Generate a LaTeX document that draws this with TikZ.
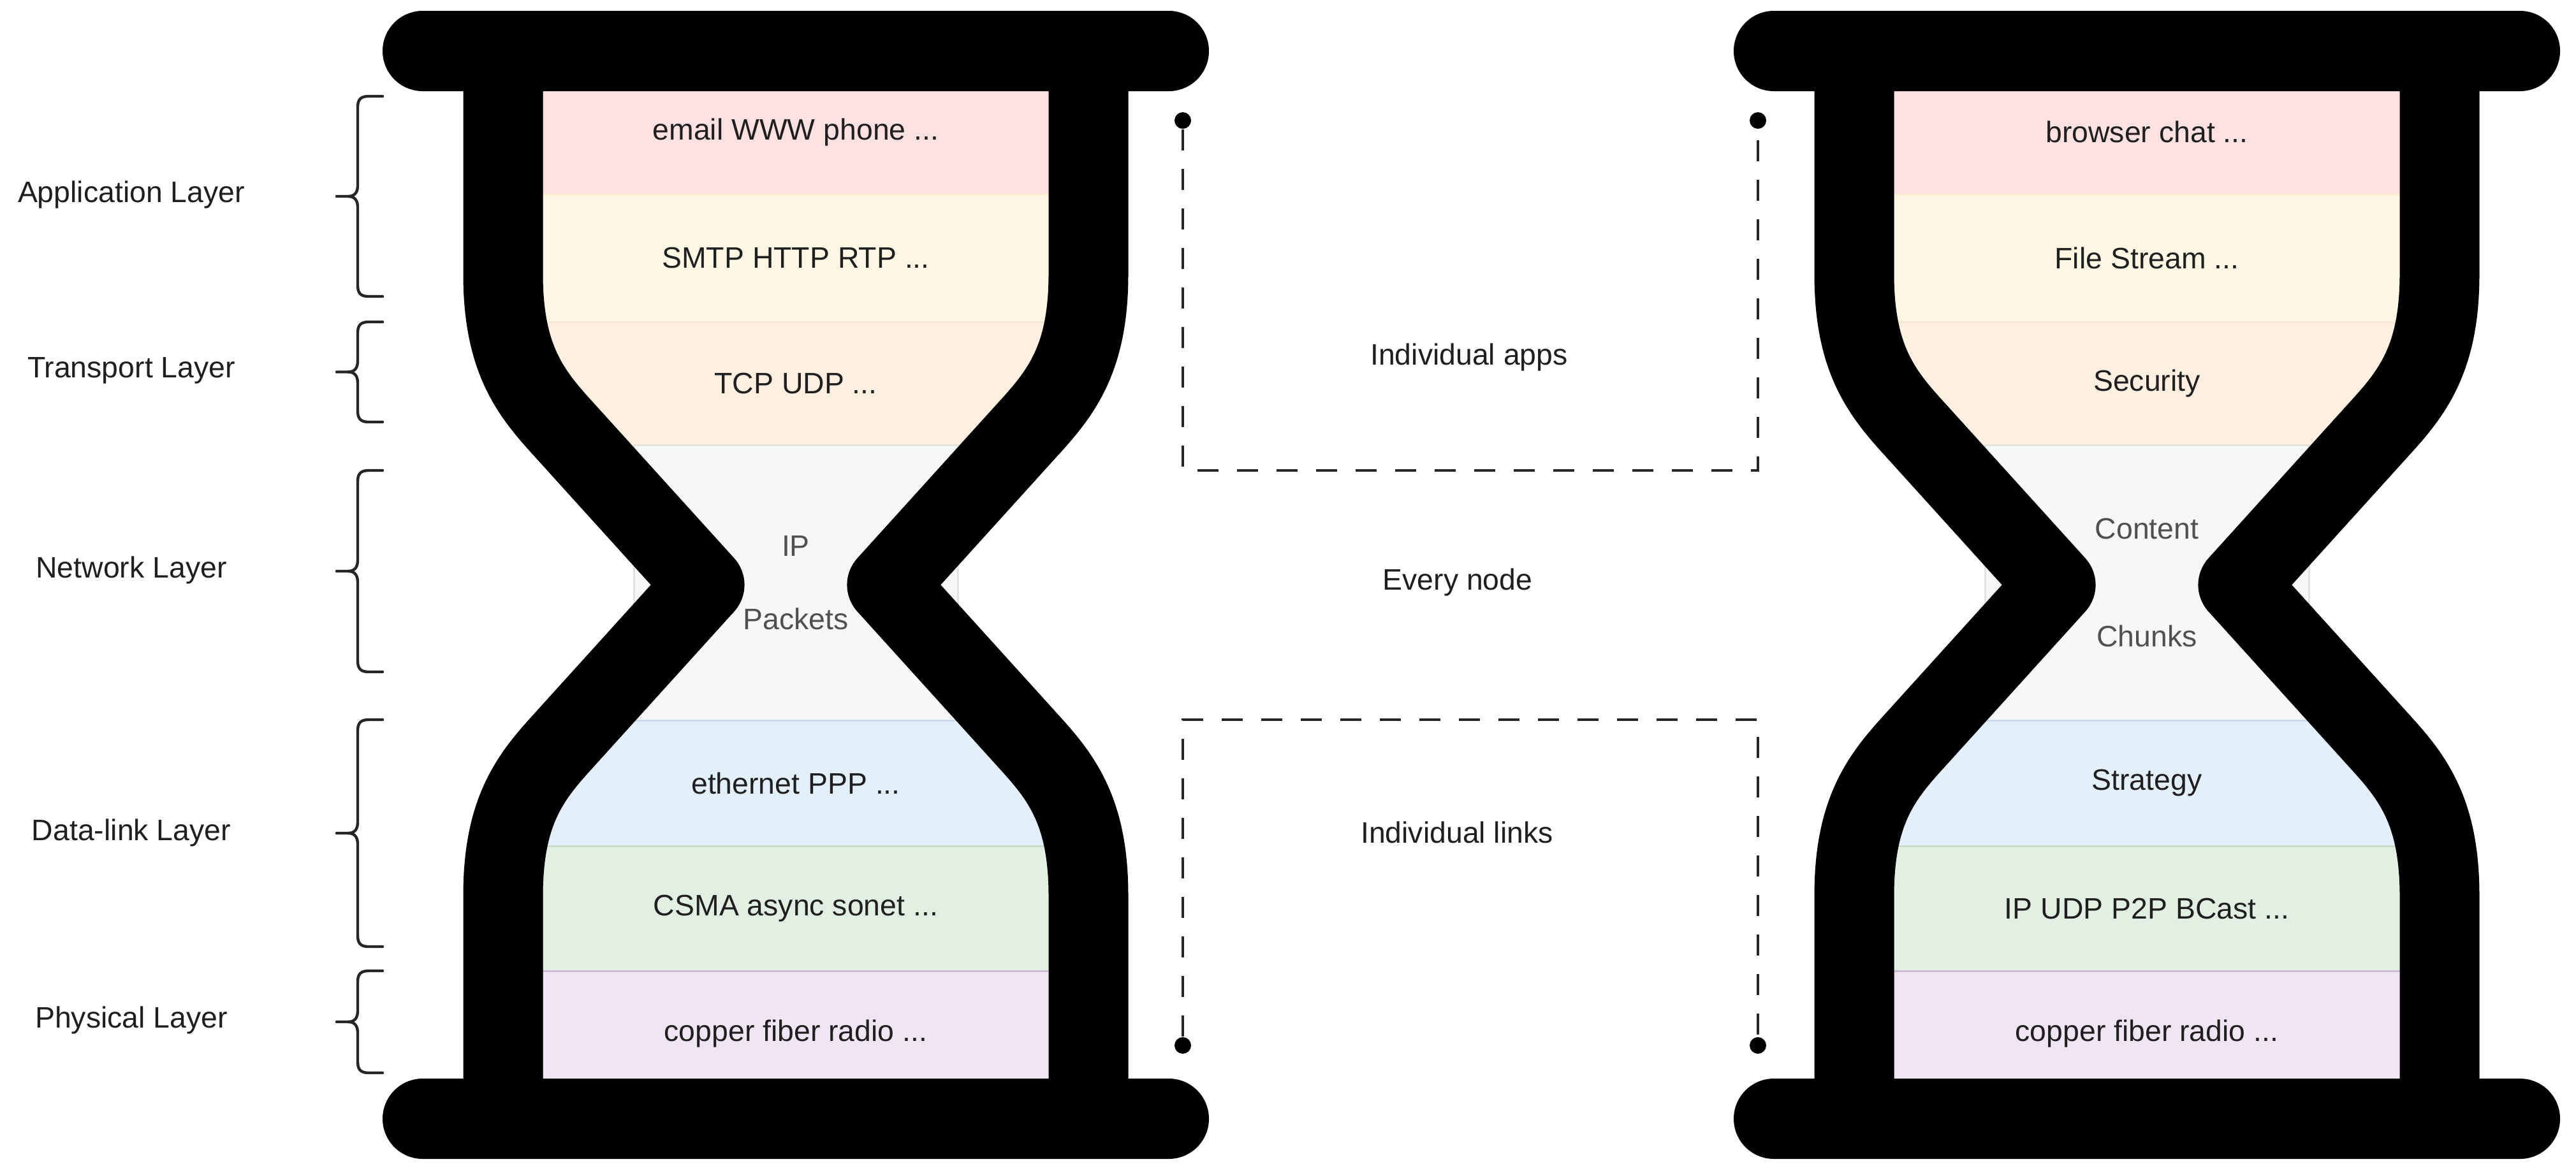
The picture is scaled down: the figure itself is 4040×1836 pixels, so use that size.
\documentclass[tikz,border=0pt]{standalone}
\usepackage{fontspec}
\setmainfont{Liberation Sans}
\usetikzlibrary{arrows.meta}
\definecolor{cpink}{HTML}{FFE1E1}
\definecolor{cyel}{HTML}{FFF7E3}
\definecolor{corg}{HTML}{FFF0E1}
\definecolor{cgray}{HTML}{F7F7F7}
\definecolor{cblue}{HTML}{E4EFFC}
\definecolor{cgreen}{HTML}{E2F0E3}
\definecolor{cpurp}{HTML}{F0E5F2}
\definecolor{dpink}{HTML}{F8D8D8}
\definecolor{dyel}{HTML}{FBF0D6}
\definecolor{dorg}{HTML}{F9E6D3}
\definecolor{dgray}{HTML}{E3E3E3}
\definecolor{dblue}{HTML}{CCDCF0}
\definecolor{dgreen}{HTML}{C6DFC6}
\definecolor{dpurp}{HTML}{CDBAD6}
\definecolor{ctext}{HTML}{1F1F1F}
\definecolor{cgtext}{HTML}{505050}
\definecolor{cline}{HTML}{262626}
\begin{document}
\begin{tikzpicture}[x=0.25pt, y=-0.25pt,
  txt/.style={font=\fontsize{11.6pt}{14pt}\selectfont, text=ctext, inner sep=0pt},
  lbox/.style={rectangle, inner sep=0pt, line width=0.75pt, minimum width=199pt,
     font=\fontsize{11.6pt}{14pt}\selectfont, text=ctext, align=center},
  hgstroke/.style={line width=31.25pt, line join=round, draw=black},
  bar/.style={rectangle, fill=black, draw=none, rounded corners=15.75pt,
     minimum width=324pt, minimum height=31.5pt, inner sep=0pt},
  bracestyle/.style={draw=cline, line width=1.1pt, line join=round, line cap=round},
  dashline/.style={draw=cline, line width=1pt, dash pattern=on 8.25pt off 7.25pt},
  dot/.style={circle, fill=black, draw=none, inner sep=0pt, minimum size=6.5pt}
]
\fill[white] (0,0) rectangle (4040,1836);
\useasboundingbox (0,0) rectangle (4040,1836);

% ---------- left hourglass boxes ----------
\node[lbox, fill=cpink, draw=dpink, minimum height=49pt] (lA) at (1248,207) {email WWW phone ...};
\node[lbox, fill=cyel, draw=dyel, minimum height=50pt] (lB) at (1248,405) {SMTP HTTP RTP ...};
\node[lbox, fill=corg, draw=dorg, minimum height=48.25pt] (lC) at (1248,601.5) {TCP UDP ...};
\node[lbox, fill=cgray, draw=dgray, minimum height=108pt, minimum width=127pt, text=cgtext,
  font=\fontsize{11.6pt}{28.75pt}\selectfont] (lD) at (1248,914) {IP\\Packets};
\node[lbox, fill=cblue, draw=dblue, minimum height=49.25pt] (lE) at (1248,1228.5) {ethernet PPP ...};
\node[lbox, fill=cgreen, draw=dgreen, minimum height=49pt] (lF) at (1248,1425) {CSMA async sonet ...};
\node[lbox, fill=cpurp, draw=dpurp, minimum height=49pt] (lG) at (1248,1621) {copper fiber radio ...};

% ---------- right hourglass boxes ----------
\node[lbox, fill=cpink, draw=dpink, minimum height=49pt] (rA) at (3367,207) {browser chat ...};
\node[lbox, fill=cyel, draw=dyel, minimum height=50pt] (rB) at (3367,405) {File Stream ...};
\node[lbox, fill=corg, draw=dorg, minimum height=48.25pt] (rC) at (3367,601.5) {Security};
\node[lbox, fill=cgray, draw=dgray, minimum height=108pt, minimum width=127pt, text=cgtext,
  font=\fontsize{11.6pt}{42.25pt}\selectfont] (rD) at (3367,914) {Content\\Chunks};
\node[lbox, fill=cblue, draw=dblue, minimum height=49.25pt] (rE) at (3367,1228.5) {Strategy};
\node[lbox, fill=cgreen, draw=dgreen, minimum height=49pt] (rF) at (3367,1425) {IP UDP P2P BCast ...};
\node[lbox, fill=cpurp, draw=dpurp, minimum height=49pt] (rG) at (3367,1621) {copper fiber radio ...};

% ---------- hourglass outlines ----------
\draw[hgstroke] (789,100) -- (789,430) .. controls (789,560) and (830,614) .. (881,670) -- (1105,917.5)
  -- (881,1165) .. controls (830,1221) and (789,1275) .. (789,1405) -- (789,1740);
\draw[hgstroke] (1707,100) -- (1707,430) .. controls (1707,560) and (1666,614) .. (1615,670) -- (1391,917.5)
  -- (1615,1165) .. controls (1666,1221) and (1707,1275) .. (1707,1405) -- (1707,1740);
\draw[hgstroke] (2908,100) -- (2908,430) .. controls (2908,560) and (2949,614) .. (3000,670) -- (3224,917.5)
  -- (3000,1165) .. controls (2949,1221) and (2908,1275) .. (2908,1405) -- (2908,1740);
\draw[hgstroke] (3826,100) -- (3826,430) .. controls (3826,560) and (3785,614) .. (3734,670) -- (3510,917.5)
  -- (3734,1165) .. controls (3785,1221) and (3826,1275) .. (3826,1405) -- (3826,1740);

% ---------- bars ----------
\node[bar] (ltop) at (1248,80) {};
\node[bar] (lbot) at (1248,1755) {};
\node[bar] (rtop) at (3367,80) {};
\node[bar] (rbot) at (3367,1755) {};

% ---------- braces and layer labels ----------
\foreach \ya/\yb in {151/465, 505/662, 738/1054, 1129/1485, 1523/1683} {
  \pgfmathsetmacro\ym{(\ya+\yb)/2}
  \draw[bracestyle] (600,\ya) -- (578,\ya) .. controls (566,\ya) and (561,\ya+5) .. (561,\ya+17)
    -- (561,\ym-17) .. controls (561,\ym-6) and (556,\ym) .. (546,\ym) -- (528,\ym);
  \draw[bracestyle] (546,\ym) .. controls (556,\ym) and (561,\ym+6) .. (561,\ym+17)
    -- (561,\yb-17) .. controls (561,\yb-5) and (566,\yb) .. (578,\yb) -- (600,\yb);
}
\node[txt] (labA) at (206,305) {Application Layer};
\node[txt] (labT) at (206,581) {Transport Layer};
\node[txt] (labN) at (206,894) {Network Layer};
\node[txt] (labD) at (206,1306) {Data-link Layer};
\node[txt] (labP) at (206,1600) {Physical Layer};

% ---------- dashed connectors ----------
\node[dot] (a1) at (1855,189) {};
\node[dot] (a2) at (2757,189) {};
\coordinate (a1c) at (1855,738);
\coordinate (a2c) at (2757,738);
\draw[dashline] (a1) -- (a1c) -- (a2c) -- (a2);
\node[dot] (b1) at (1855,1640) {};
\node[dot] (b2) at (2757,1640) {};
\coordinate (b1c) at (1855,1129);
\coordinate (b2c) at (2757,1129);
\draw[dashline] (b1) -- (b1c) -- (b2c) -- (b2);

% ---------- middle labels ----------
\node[txt] (mA) at (2304,560) {Individual apps};
\node[txt] (mN) at (2286,913) {Every node};
\node[txt] (mL) at (2285,1306) {Individual links};
\end{tikzpicture}
\end{document}
